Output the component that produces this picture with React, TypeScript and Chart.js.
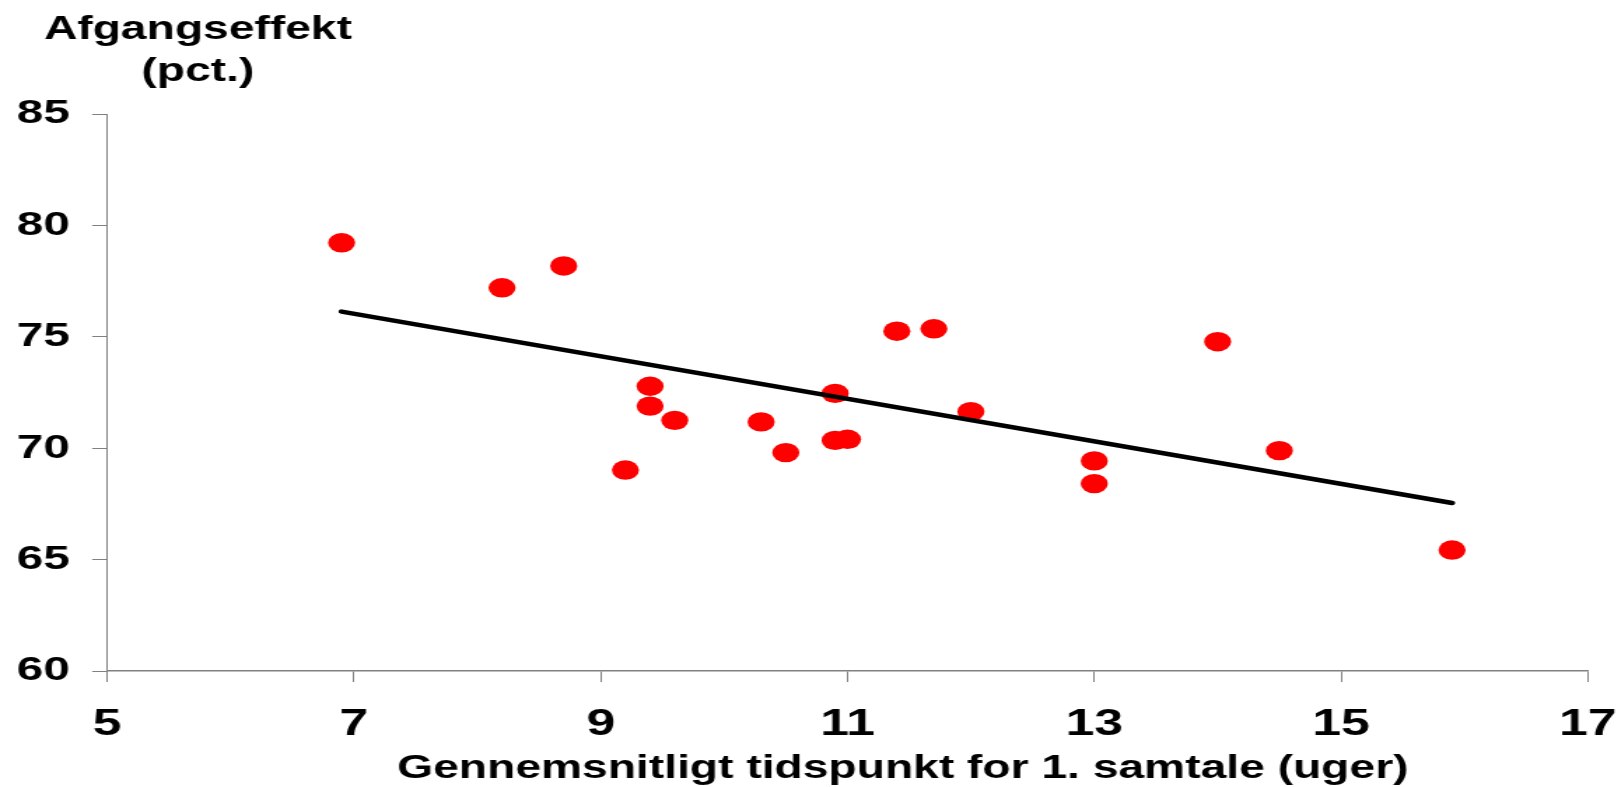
import { useEffect, useRef } from "react";
import { Chart, registerables } from "chart.js";

Chart.register(...registerables);

// ---- data ----
const xValues = [6.9, 8.2, 8.7, 9.2, 9.4, 9.4, 9.6, 10.3, 10.5, 10.9, 10.9, 11.0, 11.4, 11.7, 12.0, 13.0, 13.0, 14.0, 14.5, 15.9];
const yValues = [79.22, 77.2, 78.18, 69.02, 72.78, 71.89, 71.25, 71.18, 69.8, 72.46, 70.35, 70.4, 75.25, 75.36, 71.64, 69.43, 68.41, 74.78, 69.89, 65.43];
const trendX = [6.9, 15.9];
const trendY = [76.13, 67.54];
const xTicks = [5, 7, 9, 11, 13, 15, 17];
const yTicks = [60, 65, 70, 75, 80, 85];
const yTitleLines = ["Afgangseffekt", "(pct.)"];
const xTitle = "Gennemsnitligt tidspunkt for 1. samtale (uger)";

// ---- layout (internal canvas is drawn narrower and stretched horizontally) ----
const VIEW_W = 1621;
const VIEW_H = 787;
const STRETCH = 1.4;
const CANVAS_W = Math.round(VIEW_W / STRETCH);
const FONT = 'Arial, "Liberation Sans", sans-serif';

const titlesPlugin = {
  id: "titles",
  afterDraw(chart: any) {
    const ctx = chart.ctx;
    ctx.save();
    ctx.fillStyle = "#000";
    ctx.font = `bold 33px ${FONT}`;
    ctx.textAlign = "center";
    ctx.textBaseline = "alphabetic";
    ctx.fillText(yTitleLines[0], 141.4, 39);
    ctx.fillText(yTitleLines[1], 141.4, 81);
    ctx.fillText(xTitle, 645, 778);
    ctx.restore();
  },
};

export default function App() {
  const ref = useRef<HTMLCanvasElement | null>(null);

  useEffect(() => {
    const canvas = ref.current;
    if (!canvas) return;
    const chart = new Chart(canvas, {
      type: "scatter",
      data: {
        datasets: [
          {
            type: "line",
            label: "Trend",
            data: trendX.map((x, i) => ({ x, y: trendY[i] })),
            borderColor: "#000000",
            borderWidth: 4.5,
            borderCapStyle: "round",
            pointRadius: 0,
            fill: false,
            order: 0,
          } as any,
          {
            label: "Afgangseffekt",
            data: xValues.map((x, i) => ({ x, y: yValues[i] })),
            backgroundColor: "#FF0000",
            borderWidth: 0,
            pointRadius: 9.7,
            pointHoverRadius: 9.7,
            order: 1,
          },
        ],
      },
      options: {
        responsive: false,
        animation: false,
        devicePixelRatio: 1,
        layout: { padding: { top: 114, right: CANVAS_W - 1134.3, bottom: 0, left: 0 } },
        plugins: {
          legend: { display: false },
          tooltip: { enabled: false },
          title: { display: false },
        },
        scales: {
          x: {
            type: "linear",
            min: 5,
            max: 17,
            afterBuildTicks: (scale: any) => {
              scale.ticks = xTicks.map((v) => ({ value: v }));
            },
            afterFit: (scale: any) => {
              scale.height = VIEW_H - 671;
              scale.paddingLeft = 0;
              scale.paddingRight = 0;
            },
            grid: {
              drawOnChartArea: false,
              drawTicks: true,
              tickLength: 11,
              color: "#808080",
            },
            border: { display: true, color: "#808080", width: 1.5 },
            ticks: {
              color: "#000",
              padding: 21,
              maxRotation: 0,
              autoSkip: false,
              font: { family: FONT, size: 37, weight: "bold" },
            },
          },
          y: {
            type: "linear",
            min: 60,
            max: 85,
            afterBuildTicks: (scale: any) => {
              scale.ticks = yTicks.map((v) => ({ value: v }));
            },
            afterFit: (scale: any) => {
              scale.width = 76.6;
              scale.paddingTop = 0;
              scale.paddingBottom = 0;
            },
            grid: {
              drawOnChartArea: false,
              drawTicks: true,
              tickLength: 10.7,
              color: "#808080",
            },
            border: { display: true, color: "#808080", width: 1 },
            ticks: {
              color: "#000",
              padding: 16,
              autoSkip: false,
              font: { family: FONT, size: 34, weight: "bold" },
            },
          },
        },
      },
      plugins: [titlesPlugin],
    });
    return () => chart.destroy();
  }, []);

  return (
    <canvas
      ref={ref}
      width={CANVAS_W}
      height={VIEW_H}
      style={{
        position: "absolute",
        left: 0,
        top: 0,
        width: `${VIEW_W}px`,
        height: `${VIEW_H}px`,
        background: "#fff",
      }}
    />
  );
}
